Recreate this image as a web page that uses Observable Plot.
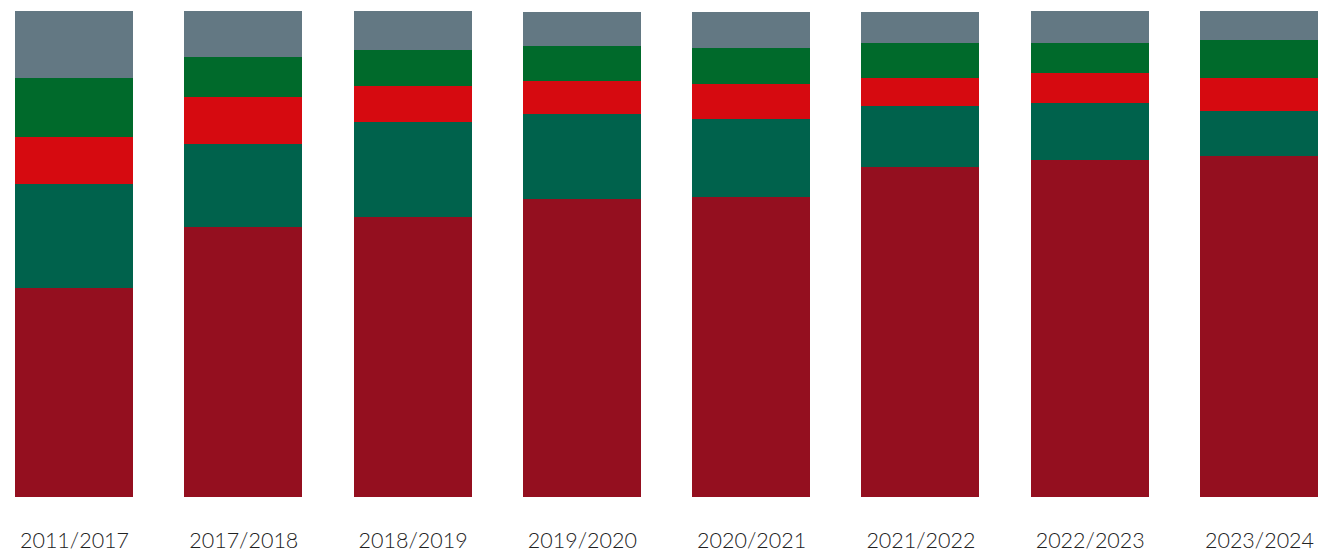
<!DOCTYPE html>
<html>
<head>
<meta charset="utf-8">
<script src="https://cdn.jsdelivr.net/npm/d3@7"></script>
<script src="https://cdn.jsdelivr.net/npm/@observablehq/plot@0.6"></script>
<style>
  html, body { margin: 0; padding: 0; background: #fff; }
  #chart svg { display: block; }
</style>
</head>
<body>
<div id="chart"></div>
<script>
const periods = ["2011/2017", "2017/2018", "2018/2019", "2019/2020", "2020/2021", "2021/2022", "2022/2023", "2023/2024"];
const seriesNames = ["S1", "S2", "S3", "S4", "S5"];
const s1 = [43.0, 55.6, 57.6, 61.3, 61.7, 67.9, 69.4, 70.2];
const s2 = [21.5, 17.1, 19.6, 17.6, 16.0, 12.6, 11.7, 9.2];
const s3 = [9.6, 9.6, 7.4, 6.7, 7.3, 5.8, 6.2, 6.9];
const s4 = [12.1, 8.2, 7.3, 7.2, 7.3, 7.1, 6.2, 7.8];
const s5 = [13.8, 9.5, 8.0, 7.0, 7.4, 6.4, 6.4, 5.8];
const colors = ["#940f1f", "#00624c", "#d60a10", "#006a2b", "#637883"];

const valuesBySeries = [s1, s2, s3, s4, s5];
const data = [];
seriesNames.forEach((s, si) => {
  periods.forEach((p, pi) => data.push({period: p, series: s, value: valuesBySeries[si][pi]}));
});

const chart = Plot.plot({
  width: 1334,
  height: 554,
  marginTop: 11,
  marginBottom: 57,
  marginLeft: 15,
  marginRight: 16,
  x: {domain: periods, paddingInner: 0.303, paddingOuter: 0, round: false, label: null},
  y: {domain: [0, 100], axis: null},
  color: {domain: seriesNames, range: colors},
  style: {fontFamily: "Lato, 'Open Sans', sans-serif", background: "#fff"},
  marks: [
    Plot.barY(data, {x: "period", y: "value", fill: "series", order: seriesNames, shapeRendering: "crispEdges"}),
    Plot.axisX({tickSize: 0, tickPadding: 35, fontSize: 21.5, fontWeight: 300, fill: "#222", label: null})
  ]
});
document.getElementById("chart").appendChild(chart);
</script>
</body>
</html>
